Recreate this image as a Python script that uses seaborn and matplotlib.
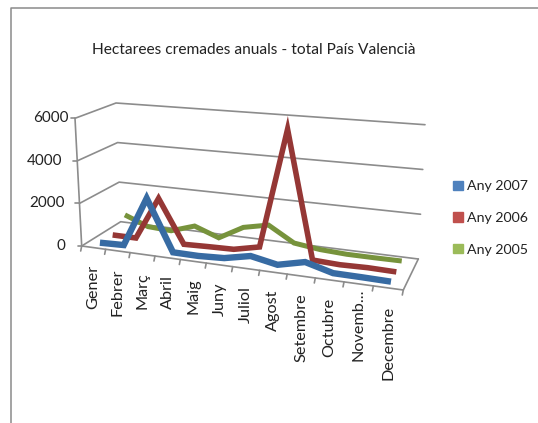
import numpy as np
import pandas as pd
import matplotlib
matplotlib.use("Agg")
import matplotlib.pyplot as plt
import seaborn as sns
from matplotlib.patches import Patch

# === DATA ===
months = ["Gener", "Febrer", "Març", "Abril", "Maig", "Juny", "Juliol", "Agost",
          "Setembre", "Octubre", "Novemb...", "Decembre"]
any_2007 = [40, 80, 2400, 50, 40, 100, 350, 120, 400, 80, 70, 50]
any_2006 = [20, 20, 2050, 20, 60, 90, 350, 5820, 70, 20, 50, 30]
any_2005 = [610, 170, 110, 480, 60, 700, 950, 260, 110, 50, 50, 60]
y_ticks = [0, 2000, 4000, 6000]
legend_names = ["Any 2007", "Any 2006", "Any 2005"]
legend_colors = ["#4F81BD", "#C0504D", "#9BBB59"]
GRID = "#8C8C8C"

# === Oblique view of the Excel 3D box, pixel corners of the box ===
FL0, FR0 = np.array([81.7, 246.0]), np.array([403.3, 290.0])
BL0, BR0 = np.array([120.7, 221.7]), np.array([418.3, 259.0])
FL6, FR6 = np.array([75.0, 118.3]), np.array([410.8, 145.5])
BL6, BR6 = np.array([116.0, 103.0]), np.array([425.0, 124.7])


def project(u, value, depth):
    # u: 0-1 along months, depth: 0 front - 1 back
    r = 1.13
    s = u / (u + r * (1 - u))
    v = value / 6000
    front0 = FL0 + (FR0 - FL0) * s
    back0 = BL0 + (BR0 - BL0) * s
    front6 = FL6 + (FR6 - FL6) * s
    back6 = BL6 + (BR6 - BL6) * s
    low = front0 + (back0 - front0) * depth
    high = front6 + (back6 - front6) * depth
    return low + (high - low) * v


# === Build the projected table, back series first ===
series = [("Any 2005", any_2005, 5 / 6, "#77933C", 3.6),
          ("Any 2006", any_2006, 1 / 2, "#953735", 4.0),
          ("Any 2007", any_2007, 1 / 6, "#376BA3", 4.6)]
rows = []
for name, vals, depth, _, _ in series:
    for i, val in enumerate(vals):
        px, py = project((i + 0.5) / 12, val, depth)
        rows.append({"serie": name, "order": i, "px": px, "py": py})
df = pd.DataFrame(rows)

sns.set_theme(style="white")
plt.rcParams["font.family"] = ["Lato", "DejaVu Sans"]
plt.rcParams["text.color"] = "#222222"

fig = plt.figure(figsize=(5.38, 4.23), dpi=100)
ax = fig.add_axes([0, 0, 1, 1])
ax.set_xlim(0, 538)
ax.set_ylim(423, 0)
ax.axis("off")

# chart frame
ax.plot([11, 11, 538], [423, 8.5, 8.5], color="#8A8A8A", lw=1.1)

# walls
label_right = {0: 65, 2000: 65, 4000: 62, 6000: 69}
for val in y_ticks:
    pts = np.array([project(0, val, 0), project(0, val, 1), project(1, val, 1)])
    ax.plot(pts[:, 0], pts[:, 1], color=GRID, lw=1.2, zorder=1)
    start = project(0, val, 0)
    ax.plot([start[0] - 4, start[0]], [start[1], start[1]], color=GRID, lw=1.2, zorder=1)
    ax.text(label_right[val], start[1], str(val), ha="right", va="center", fontsize=11)

axis_pts = np.array([project(0, 6000, 0), project(0, 0, 0), project(1, 0, 0), project(1, 0, 1)])
ax.plot(axis_pts[:, 0], axis_pts[:, 1], color=GRID, lw=1.2, zorder=1)

for k in range(13):
    tx, ty = project(k / 12, 0, 0)
    ax.plot([tx, tx - 1], [ty, ty + 5], color=GRID, lw=1.2, zorder=1)

for i, m in enumerate(months):
    tx, ty = project((i + 0.5) / 12, 0, 0)
    # the shortened label sits higher in the reference
    off = 5 if m.endswith("...") else 17.5
    ax.text(tx, ty + off, m, rotation=90, ha="center", va="top", fontsize=11.7)

for name, _, _, color, width in series:
    sns.lineplot(data=df[df["serie"] == name], x="px", y="py", color=color, estimator=None, sort=False,
                 lw=width, ax=ax, zorder=3, solid_joinstyle="miter", solid_capstyle="butt")
ax.set_xlim(0, 538)
ax.set_ylim(423, 0)

ax.text(254, 50.5, "Hectarees cremades anuals - total País Valencià", ha="center", va="center", fontsize=11.2)

handles = [Patch(color=c, label=n) for c, n in zip(legend_colors, legend_names)]
ax.legend(handles=handles, loc="center left", bbox_to_anchor=(453 / 538, 1 - 218 / 423), frameon=False,
          fontsize=10.2, handlelength=0.68, handleheight=0.68, handletextpad=0.28, labelspacing=1.38,
          borderpad=0, borderaxespad=0)

fig.savefig("out.png", dpi=100)
plt.close(fig)
